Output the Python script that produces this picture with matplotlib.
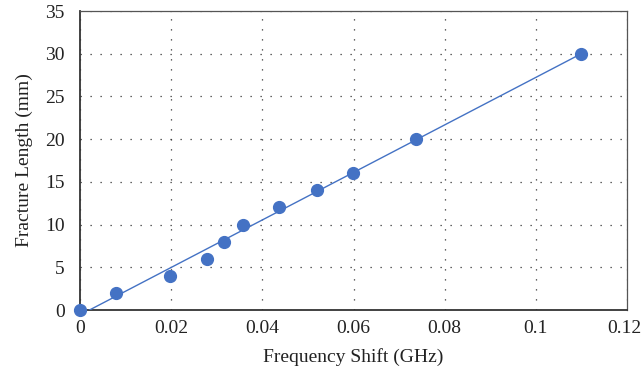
import numpy as np
import matplotlib
matplotlib.use("Agg")
from matplotlib import pyplot as plt
from matplotlib.transforms import ScaledTranslation

freq_shift = [0.0, 0.0078, 0.0197, 0.0278, 0.0315, 0.0358, 0.0436, 0.0519, 0.0598, 0.0738, 0.1099]
fracture_len = [0, 2, 4, 6, 8, 10, 12, 14, 16, 20, 30]

plt.rcParams["font.family"] = "Liberation Serif"
plt.rcParams["font.size"] = 14

fig = plt.figure(figsize=(6.43, 3.76), dpi=100)
ax = fig.add_axes([0.1244, 0.1755, 0.8508, 0.7952])

# linear trend line
k, b = np.polyfit(freq_shift, fracture_len, 1)
xs = np.array([min(freq_shift), max(freq_shift)])
ax.plot(xs, k * xs + b, color="#4472C4", lw=1.0, zorder=3)
ax.plot(freq_shift, fracture_len, "o", color="#4472C4", ms=8.5, zorder=4, clip_on=False)

ax.set_xlim(0, 0.12)
ax.set_ylim(0, 35)
ax.set_xticks([0, 0.02, 0.04, 0.06, 0.08, 0.1, 0.12])
ax.set_xticklabels(["0", "0.02", "0.04", "0.06", "0.08", "0.1", "0.12"])
ax.set_yticks(range(0, 36, 5))
ax.grid(True, color="#333333", linestyle=(0, (1, 7)), lw=0.9)
ax.tick_params(axis="y", length=0, pad=11, colors="#222222")
ax.tick_params(axis="x", length=0, pad=7, colors="#222222")
for s in ["left", "bottom"]:
    ax.spines[s].set_color("#333333")
    ax.spines[s].set_linewidth(1.3)
for s in ["top", "right"]:
    ax.spines[s].set_color("#555555")
    ax.spines[s].set_linewidth(0.9)

# keep last x label inside the figure
last = ax.get_xticklabels()[-1]
last.set_transform(last.get_transform() + ScaledTranslation(-3 / 100, 0, fig.dpi_scale_trans))

ax.set_xlabel("Frequency Shift (GHz)", color="#222222", labelpad=8)
ax.set_ylabel("Fracture Length (mm)", color="#222222", labelpad=9)

plt.savefig("out.png", dpi=100)
